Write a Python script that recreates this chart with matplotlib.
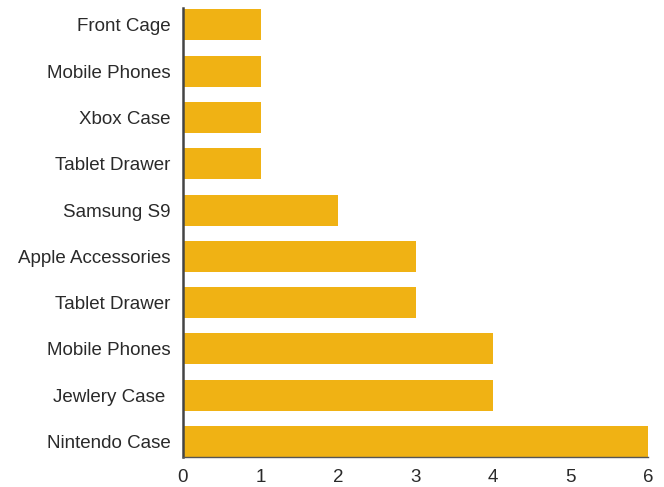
import matplotlib.pyplot as plt

# Datos (de abajo hacia arriba)
categorias = ["Nintendo Case", "Jewlery Case ", "Mobile Phones", "Tablet Drawer",
              "Apple Accessories", "Samsung S9", "Tablet Drawer", "Xbox Case",
              "Mobile Phones", "Front Cage"]
valores = [6, 4, 4, 3, 3, 2, 1, 1, 1, 1]
ticks_x = [0, 1, 2, 3, 4, 5, 6]

plt.rcParams['font.family'] = ['Liberation Sans', 'DejaVu Sans']

fig = plt.figure(figsize=(6.64, 4.87), dpi=100)
ax = fig.add_axes([183 / 664, 30 / 487, 465 / 664, 449 / 487])

alto = 0.67
pos = list(range(len(categorias)))
ax.barh(pos, valores, height=alto, color='#F0B214')

ax.set_xlim(0, 6)
ax.set_ylim(-alto / 2, len(categorias) - 1 + alto / 2 + 0.03)
ax.set_yticks(pos)
ax.set_yticklabels(categorias, fontsize=13.5, color='#2a2a2a')
ax.set_xticks(ticks_x)
ax.set_xticklabels([str(t) for t in ticks_x], fontsize=13.5, color='#2a2a2a')

ax.tick_params(axis='y', length=0, pad=9)
ax.tick_params(axis='x', length=0, pad=9)

for lado in ['top', 'right']:
    ax.spines[lado].set_visible(False)
ax.spines['left'].set_color('#444444')
ax.spines['left'].set_linewidth(1.8)
ax.spines['bottom'].set_color('#555555')
ax.spines['bottom'].set_linewidth(1.0)

fig.savefig('out.png', dpi=100)
